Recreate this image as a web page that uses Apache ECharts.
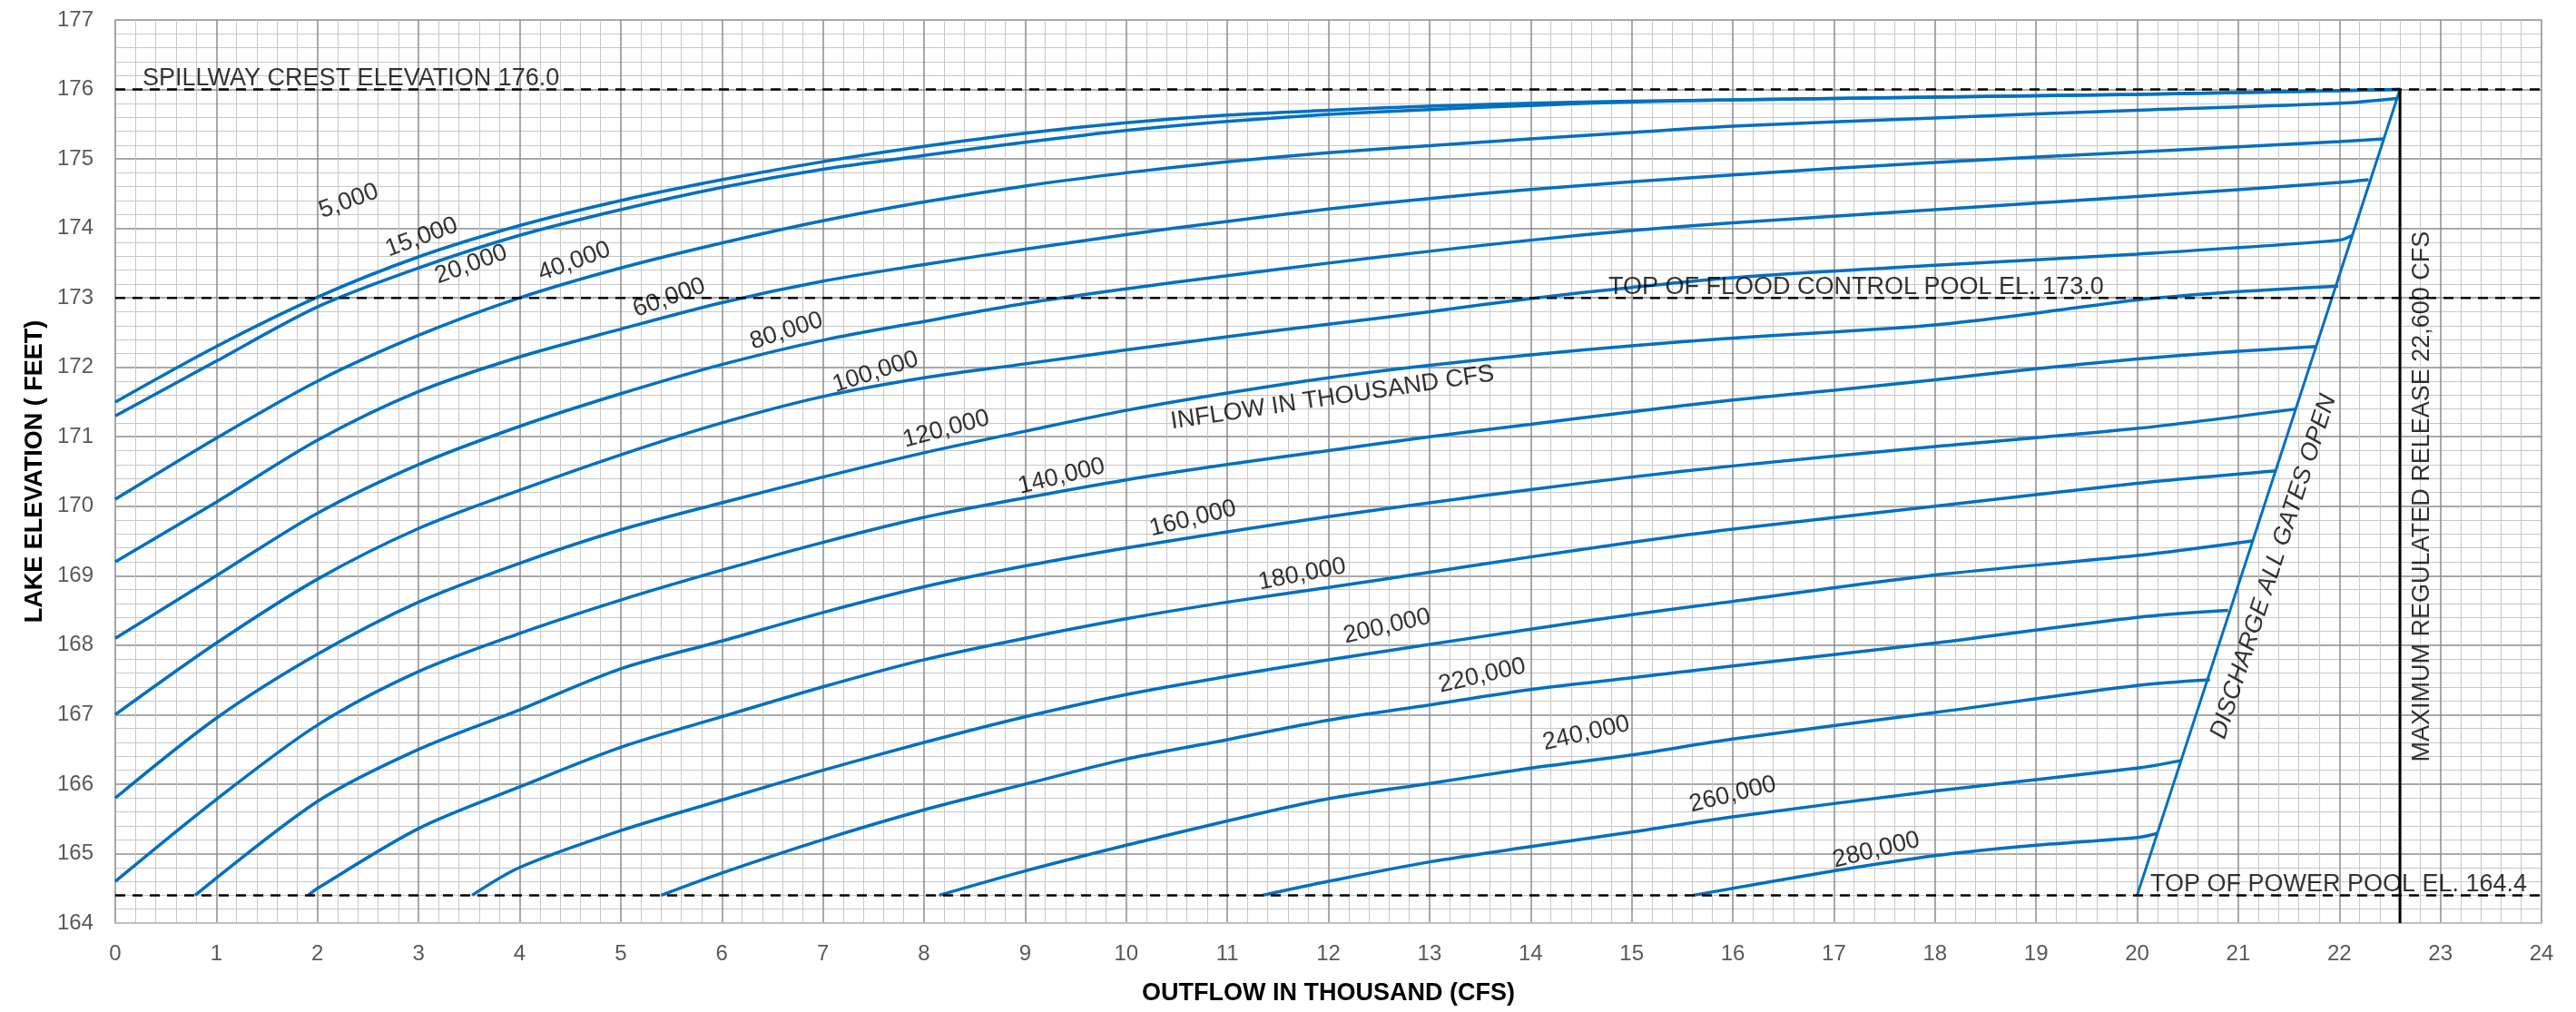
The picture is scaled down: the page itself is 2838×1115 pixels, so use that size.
<!DOCTYPE html>
<html>
<head>
<meta charset="utf-8">
<script src="https://cdn.jsdelivr.net/npm/echarts@6/dist/echarts.min.js"></script>
<style>
html, body { margin: 0; padding: 0; background: #fff; }
#chart { width: 2838px; height: 1115px; }
</style>
</head>
<body>
<div id="chart"></div>
<script>
// outflow (thousand cfs) vs lake elevation (ft), one array per inflow curve
var inflow15k = [[0,171.5],[1,172.3],[2,173.01],[3,173.59],[4,174.04],[5,174.4],[6,174.7],[7,174.96],[8,175.18],[9,175.37],[10,175.52],[11,175.63],[12,175.7],[13,175.76],[14,175.8],[15,175.83],[16,175.85],[18,175.89],[20,175.93],[22.6,176.0]]
var inflow20k = [[0,171.3],[1,172.09],[2,172.87],[3,173.43],[4,173.9],[5,174.27],[6,174.59],[7,174.85],[8,175.05],[9,175.24],[10,175.41],[11,175.54],[12,175.64],[13,175.71],[14,175.77],[15,175.82],[16,175.85],[18,175.89],[20,175.93],[22.6,176.0]]
var inflow40k = [[0,170.1],[1,170.98],[2,171.8],[3,172.46],[4,173.0],[5,173.43],[6,173.79],[7,174.11],[8,174.38],[9,174.61],[10,174.8],[11,174.96],[12,175.09],[13,175.19],[14,175.29],[15,175.38],[16,175.47],[18,175.59],[20,175.7],[22,175.8],[22.57,175.87]]
var inflow60k = [[0,169.2],[1,170.06],[2,170.95],[3,171.65],[4,172.15],[5,172.55],[6,172.93],[7,173.24],[8,173.48],[9,173.7],[10,173.91],[11,174.1],[12,174.28],[13,174.43],[14,174.56],[15,174.67],[16,174.77],[18,174.95],[20,175.1],[22,175.25],[22.44,175.29]]
var inflow80k = [[0,168.1],[1,169.0],[2,169.9],[3,170.6],[4,171.15],[5,171.62],[6,172.04],[7,172.39],[8,172.66],[9,172.92],[10,173.13],[11,173.32],[12,173.5],[13,173.67],[14,173.83],[15,173.97],[16,174.08],[18,174.27],[20,174.46],[22,174.66],[22.29,174.7]]
var inflow100k = [[0,167.0],[1,168.03],[2,168.95],[3,169.68],[4,170.23],[5,170.74],[6,171.2],[7,171.58],[8,171.85],[9,172.05],[10,172.25],[11,172.44],[12,172.62],[13,172.8],[14,172.99],[15,173.15],[16,173.29],[18,173.47],[20,173.63],[22,173.83],[22.13,173.9]]
var inflow120k = [[0,165.8],[1,166.95],[2,167.87],[3,168.62],[4,169.18],[5,169.66],[6,170.05],[7,170.42],[8,170.77],[9,171.08],[10,171.38],[11,171.63],[12,171.85],[13,172.03],[14,172.18],[15,172.31],[16,172.42],[17,172.51],[18,172.61],[19,172.78],[20,172.97],[21,173.09],[21.99,173.17]]
var inflow140k = [[0,164.6],[1,165.78],[2,166.85],[3,167.62],[4,168.17],[5,168.65],[6,169.08],[7,169.48],[8,169.84],[9,170.12],[10,170.38],[11,170.6],[12,170.8],[13,171.0],[14,171.18],[15,171.36],[16,171.53],[17,171.67],[18,171.82],[19,171.98],[20,172.12],[21,172.23],[21.78,172.3]]
var inflow160k = [[0.79,164.4],[2,165.75],[3,166.5],[4,167.07],[5,167.66],[6,168.06],[7,168.47],[8,168.84],[9,169.14],[10,169.4],[11,169.63],[12,169.85],[13,170.05],[14,170.24],[15,170.42],[16,170.58],[18,170.86],[20,171.12],[21.57,171.4]]
var inflow180k = [[1.91,164.4],[2,164.5],[3,165.36],[4,165.96],[5,166.53],[6,166.97],[7,167.4],[8,167.79],[9,168.1],[10,168.38],[11,168.62],[12,168.83],[13,169.05],[14,169.27],[15,169.48],[16,169.67],[18,170.0],[20,170.33],[21.38,170.51]]
var inflow200k = [[3.53,164.4],[4,164.8],[5,165.33],[6,165.77],[7,166.2],[8,166.6],[9,166.97],[10,167.29],[11,167.55],[12,167.79],[13,168.01],[14,168.23],[15,168.44],[16,168.63],[18,169.01],[20,169.29],[21.14,169.5]]
var inflow220k = [[5.4,164.4],[6,164.72],[7,165.2],[8,165.63],[9,166.0],[10,166.36],[11,166.64],[12,166.92],[13,167.14],[14,167.36],[15,167.53],[16,167.7],[18,168.03],[20,168.4],[20.9,168.5]]
var inflow240k = [[8.15,164.4],[9,164.75],[10,165.12],[11,165.47],[12,165.79],[13,166.01],[14,166.23],[15,166.42],[16,166.65],[18,167.03],[20,167.42],[20.72,167.5]]
var inflow260k = [[11.35,164.4],[12,164.6],[13,164.88],[14,165.1],[15,165.31],[16,165.53],[18,165.9],[20,166.23],[20.44,166.34]]
var inflow280k = [[15.61,164.4],[17,164.75],[18,164.97],[19,165.12],[20,165.23],[20.2,165.29]]

var allGatesOpen = [[20.0,164.4],[22.6,176.0]]
var spillwayCrest = 176.0
var floodControlPool = 173.0
var powerPool = 164.4
var maxRelease = 22.6

// curve labels: text, position (x, y) and tilt in degrees
var curveLabels = ['5,000','15,000','20,000','40,000','60,000','80,000','100,000','120,000','140,000','160,000','180,000','200,000','220,000','240,000','260,000','280,000','INFLOW IN THOUSAND CFS']
var curveLabelAt = [[2.31,174.39],[3.03,173.87],[3.52,173.48],[4.54,173.52],[5.48,173.0],[6.64,172.52],[7.52,171.93],[8.22,171.11],[9.36,170.43],[10.66,169.82],[11.74,169.02],[12.58,168.27],[13.52,167.56],[14.55,166.73],[16.0,165.85],[17.42,165.05],[12.04,171.56]]
var curveLabelTilt = [20,20,20,20,20,18,18,15,14,14,11,13,13,13,14,14,8.5]

var xTicks = [0, 24, 1]
var yTicks = [164, 177, 1]

var chart = echarts.init(document.getElementById('chart'))

var blue = '#0070C0'
var font = 'Liberation Sans, Arial, sans-serif'

var curves = [inflow15k, inflow20k, inflow40k, inflow60k, inflow80k, inflow100k, inflow120k,
  inflow140k, inflow160k, inflow180k, inflow200k, inflow220k, inflow240k, inflow260k, inflow280k]
var curveNames = ['15,000', '20,000', '40,000', '60,000', '80,000', '100,000', '120,000',
  '140,000', '160,000', '180,000', '200,000', '220,000', '240,000', '260,000', '280,000']

var series = curves.map(function (d, i) {
  return {
    name: curveNames[i],
    type: 'line',
    data: d,
    smooth: 0.3,
    showSymbol: false,
    lineStyle: { color: blue, width: 3.5 },
    z: 3
  }
})

series.push({
  name: 'all gates open',
  type: 'line',
  data: allGatesOpen,
  showSymbol: false,
  lineStyle: { color: blue, width: 3 },
  z: 3
})

function hline (y) {
  return {
    type: 'line',
    data: [[xTicks[0], y], [xTicks[1], y]],
    showSymbol: false,
    lineStyle: { color: '#000', width: 2.5, type: [11, 8] },
    z: 4
  }
}
series.push(hline(spillwayCrest))
series.push(hline(floodControlPool))
series.push(hline(powerPool))

series.push({
  type: 'line',
  data: [[maxRelease, yTicks[0]], [maxRelease, spillwayCrest]],
  showSymbol: false,
  lineStyle: { color: '#000', width: 3 },
  z: 4
})

// rotated inflow labels
series.push({
  type: 'scatter',
  symbolSize: 1,
  itemStyle: { color: 'rgba(0,0,0,0)' },
  silent: true,
  z: 5,
  data: curveLabels.map(function (t, i) {
    return {
      value: curveLabelAt[i],
      label: {
        show: true,
        position: 'inside',
        formatter: t,
        rotate: curveLabelTilt[i],
        align: 'center',
        verticalAlign: 'middle',
        color: '#000',
        fontSize: 27,
        fontFamily: font
      }
    }
  })
})

// horizontal notes on the reference levels
function note (x, y, text) {
  return {
    value: [x, y],
    label: {
      show: true,
      position: 'inside',
      formatter: text,
      align: 'left',
      verticalAlign: 'bottom',
      offset: [0, 2],
      color: '#000',
      fontSize: 27,
      fontFamily: font
    }
  }
}
series.push({
  type: 'scatter',
  symbolSize: 1,
  itemStyle: { color: 'rgba(0,0,0,0)' },
  silent: true,
  z: 5,
  data: [
    note(0.27, spillwayCrest, 'SPILLWAY CREST ELEVATION 176.0'),
    note(14.77, floodControlPool, 'TOP OF FLOOD CONTROL POOL EL. 173.0'),
    note(20.13, powerPool, 'TOP OF POWER POOL EL. 164.4'),
    {
      value: [21.35, 169.13],
      label: {
        show: true, position: 'inside', formatter: 'DISCHARGE ALL GATES OPEN',
        rotate: 72, align: 'center', verticalAlign: 'middle',
        color: '#000', fontSize: 27, fontStyle: 'italic', fontFamily: font
      }
    },
    {
      value: [22.82, 170.14],
      label: {
        show: true, position: 'inside', formatter: 'MAXIMUM REGULATED RELEASE 22,600 CFS',
        rotate: 90, align: 'center', verticalAlign: 'middle',
        color: '#000', fontSize: 27, fontFamily: font
      }
    }
  ]
})

var option = {
  backgroundColor: '#fff',
  animation: false,
  grid: { left: 127, right: 38, top: 22, bottom: 98 },
  xAxis: {
    type: 'value',
    min: xTicks[0],
    max: xTicks[1],
    interval: xTicks[2],
    name: 'OUTFLOW IN THOUSAND (CFS)',
    nameLocation: 'middle',
    nameGap: 64,
    nameTextStyle: { color: '#000', fontSize: 27, fontWeight: 'bold', fontFamily: font },
    axisLine: { show: true, lineStyle: { color: '#bfbfbf', width: 2 } },
    axisTick: { show: false },
    axisLabel: { color: '#595959', fontSize: 24, fontFamily: font, margin: 22 },
    splitLine: { show: true, lineStyle: { color: '#8c8c8c', width: 1.5 } },
    minorTick: { show: false, splitNumber: 5 },
    minorSplitLine: { show: true, lineStyle: { color: '#c8c8c8', width: 1 } }
  },
  yAxis: {
    type: 'value',
    min: yTicks[0],
    max: yTicks[1],
    interval: yTicks[2],
    name: 'LAKE ELEVATION ( FEET)',
    nameLocation: 'middle',
    nameGap: 72,
    nameTextStyle: { color: '#000', fontSize: 27, fontWeight: 'bold', fontFamily: font },
    axisLine: { show: true, lineStyle: { color: '#a6a6a6', width: 2 } },
    axisTick: { show: false },
    axisLabel: { color: '#595959', fontSize: 24, fontFamily: font, margin: 24 },
    splitLine: { show: true, lineStyle: { color: '#8c8c8c', width: 1.5 } },
    minorTick: { show: false, splitNumber: 5 },
    minorSplitLine: { show: true, lineStyle: { color: '#c8c8c8', width: 1 } }
  },
  series: series
}

chart.setOption(option)
</script>
</body>
</html>
